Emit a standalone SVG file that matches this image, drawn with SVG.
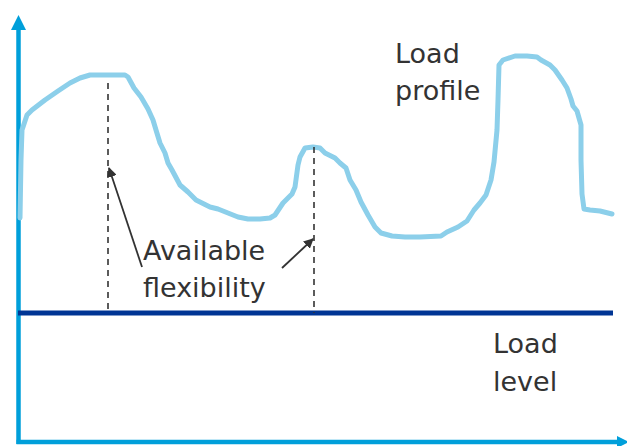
<svg xmlns="http://www.w3.org/2000/svg" width="627" height="446" viewBox="0 0 627 446">
<style>
.axis{stroke:#009fda;stroke-width:4.5;fill:none}
.lbl{font-family:"DejaVu Sans",Verdana,sans-serif;font-size:27px;fill:#333}
.dash{stroke:#333;stroke-width:1.6;stroke-dasharray:6,5;fill:none}
.ptr{stroke:#333;stroke-width:1.8;fill:none}
</style>
<defs>
<marker id="ah" viewBox="0 0 10 10" refX="9" refY="5" markerWidth="10" markerHeight="10" markerUnits="userSpaceOnUse" orient="auto">
<path d="M0,0 L10,5 L0,10 Z" fill="#333"/>
</marker>
</defs>
<g id="axes">
<line class="axis" x1="18.5" y1="444" x2="18.5" y2="28"/>
<polygon points="18.5,15 11,30 26,30" fill="#009fda"/>
<line class="axis" x1="16.5" y1="442" x2="622" y2="442"/>
<polygon points="629,442 617,436 617,448" fill="#009fda"/>
</g>
<g id="load-level">
<line x1="18" y1="313" x2="613" y2="313" stroke="#003594" stroke-width="5"/>
</g>
<g id="load-profile">
<path d="M20,218 L21,160 L22,130 L27,115 L32,110 L45,100 L58,91 L70,83 L80,78 L90,75 L110,75 L125,75 L128,77 L134,88 L141,97 L148,109 L153,120 L156,130 L160,143 L165,153 L168,163 L172,170 L180,185 L188,192 L196,200 L204,204 L210,207 L218,209 L228,213 L238,217 L248,219 L260,219 L270,218 L275,215 L283,203 L292,194 L295,187 L298,165 L300,157 L305,148 L313,147 L320,148 L325,153 L335,158 L340,163 L346,168 L350,180 L356,190 L361,202 L368,215 L375,227 L381,233 L392,236 L405,237 L420,237 L441,236 L447,232 L458,227 L467,221 L474,210 L480,203 L486,195 L491,180 L494,162 L497,130 L498,100 L499,65 L503,60 L515,56 L527,56 L537,57 L541,60 L550,65 L555,70 L562,80 L567,88 L571,99 L573,106 L577,111 L579,118 L581,125 L581,160 L582,194 L584,209 L590,210 L600,211 L612,214" fill="none" stroke="#8ccfea" stroke-width="5" stroke-linejoin="round" stroke-linecap="round"/>
</g>
<g id="flexibility-markers">
<line class="dash" x1="108" y1="83" x2="108" y2="313"/>
<line class="dash" x1="314" y1="147" x2="314" y2="313"/>
</g>
<g id="connectors">
<line class="ptr" x1="142" y1="267" x2="109" y2="168" marker-end="url(#ah)"/>
<line class="ptr" x1="282" y1="268" x2="313" y2="239" marker-end="url(#ah)"/>
</g>
<g id="labels">
<text class="lbl" x="395" y="63">Load</text>
<text class="lbl" x="395" y="100">profile</text>
<text class="lbl" x="143" y="260">Available</text>
<text class="lbl" x="143" y="297">flexibility</text>
<text class="lbl" x="493" y="353">Load</text>
<text class="lbl" x="493" y="391">level</text>
</g>
</svg>
